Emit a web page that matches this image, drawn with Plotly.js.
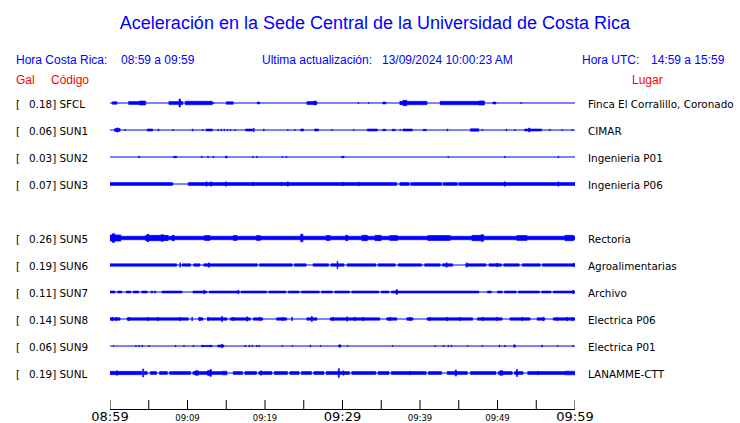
<!DOCTYPE html>
<html><head><meta charset="utf-8">
<script src="https://cdn.plot.ly/plotly-3.0.1.min.js"></script>
<style>html,body{margin:0;padding:0;background:#fff}#chart{width:740px;height:423px}</style>
</head><body><div id="chart"></div>
<script>
// ---------------- DATA ----------------
const estaciones = ["SFCL","SUN1","SUN2","SUN3","SUN5","SUN6","SUN7","SUN8","SUN9","SUNL"];
const ranuras    = [0,1,2,3,5,6,7,8,9,10];   // slot of each station (SUN4 has no record)
const picoGal    = [0.18,0.06,0.03,0.07,0.26,0.19,0.11,0.14,0.06,0.19];
const lugares    = ["Finca El Corralillo, Coronado","CIMAR","Ingenieria P01","Ingenieria P06","Rectoria","Agroalimentarias","Archivo","Electrica P06","Electrica P01","LANAMME-CTT"];
const minutosTick  = [0,10,20,30,40,50,60];
const textoTick    = ["08:59","09:09","09:19","09:29","09:39","09:49","09:59"];
const tickMayor    = [true,false,false,true,false,false,true];
const minutosMarca = [0,5,10,15,20,25,30,35,40,45,50,55,60];

// envelope of each record: [start minute, end minute, half amplitude (relative units)]
const SFCL = [[0.3,0.9,1.8],[2.4,4.2,2.0],[3.8,4.6,2.7],[7.6,9.4,2.2],[8.9,9.1,5.0],[9.7,13.2,2.4],[13.3,13.4,1.0],
  [15.0,15.9,1.8],[19.0,19.3,1.5],[25.4,26.7,2.0],[26.3,26.6,2.6],[32.0,32.1,1.0],[33.3,33.4,1.0],[35.2,35.6,1.5],
  [37.4,40.9,2.3],[37.8,38.3,3.5],[42.6,48.3,2.3],[47.6,48.3,2.7],[49.4,49.8,1.5],[53.0,53.1,1.0]];
const SUN1 = [[0.6,1.3,2.0],[0.9,1.0,3.0],[1.9,2.0,1.0],[4.8,5.5,1.5],[6.2,6.3,1.5],[8.1,8.2,1.0],[10.6,10.7,1.5],
  [11.9,12.0,1.0],[12.4,13.2,1.5],[13.9,14.0,1.2],[14.3,14.4,1.2],[14.7,14.8,1.2],[15.1,15.2,1.2],[15.5,15.6,1.2],
  [16.1,16.2,1.0],[17.5,18.4,1.5],[18.5,18.6,2.5],[19.8,19.9,1.5],[22.9,23.0,1.0],[23.8,23.9,1.0],[24.6,25.0,1.5],
  [26.4,26.9,1.5],[28.6,28.7,1.0],[31.4,31.5,1.0],[33.2,34.5,1.5],[35.2,35.6,1.2],[36.4,36.8,1.2],[37.4,37.5,1.0],
  [37.8,39.0,1.5],[40.4,40.8,1.2],[43.5,43.6,1.5],[46.5,47.6,1.8],[48.0,48.1,1.2],[51.1,51.2,1.5],[52.2,52.3,1.0],
  [53.5,55.7,1.5],[54.0,54.2,2.5],[56.7,56.8,1.2],[58.3,58.4,1.0],[59.6,59.7,1.0]];
const SUN2 = [[3.7,3.8,1.5],[8.2,8.6,1.2],[11.8,11.9,1.2],[12.6,12.7,1.2],[13.3,13.4,1.2],[14.9,15.1,1.5],[18.4,18.5,1.2],
  [18.9,19.0,1.2],[22.2,22.3,1.0],[22.7,22.8,1.0],[29.9,30.2,1.2],[43.6,43.7,1.0],[50.9,51.0,1.2],[57.8,57.9,1.2]];
const SUN3 = [[0,8.1,2.0],[10.1,37.0,2.0],[37.4,38.6,2.0],[38.8,42.8,2.0],[43.0,44.8,2.0],[45.0,60,2.0],
  [12.4,12.5,3.0],[13.0,13.1,3.0],[14.9,15.0,3.0],[18.4,18.5,2.5],[22.1,22.2,2.5],[22.9,23.0,3.0],[30.0,30.1,2.5],
  [32.1,32.2,2.5],[50.9,51.0,3.0],[57.8,57.9,3.0]];
const SUN5 = [[0,60,2.4],[0,1.4,4.0],[0.3,0.6,5.5],[4.6,7.5,3.5],[4.8,5.0,4.8],[6.6,6.9,4.2],[8.0,8.3,3.5],
  [12.2,12.9,3.2],[15.9,16.4,3.2],[18.9,19.4,3.2],[24.6,24.9,4.8],[27.9,28.4,3.2],[30.4,30.7,3.5],[32.5,33.2,3.5],
  [34.2,35.0,3.5],[36.1,37.1,3.2],[41.0,43.9,3.2],[46.7,48.2,3.5],[47.9,48.2,4.3],[52.5,53.8,3.2],[58.7,59.8,3.5]];
const SUN6 = [[0,8.6,1.8],[9.3,10.4,1.8],[10.8,11.6,1.8],[12.1,19.0,1.8],[19.3,23.5,1.8],[23.8,25.3,1.8],[26.2,28.2,1.8],
  [28.5,30.2,1.8],[30.6,34.3,1.8],[34.6,36.8,1.8],[37.2,40.2,1.8],[40.6,42.6,1.8],[42.9,44.2,1.8],[45.9,48.5,1.8],
  [48.9,50.5,1.8],[50.8,52.8,1.8],[53.2,55.5,1.8],[55.8,60,1.8],
  [9.0,9.1,3.0],[12.7,12.8,3.0],[29.3,29.4,4.8],[43.4,43.5,3.0],[46.0,46.1,3.0],[49.9,50.0,2.5],[59.8,59.9,2.5]];
const SUN7 = [[0,0.65,1.5],[1.0,1.5,1.5],[2.1,2.7,1.5],[3.0,3.7,1.5],[4.1,4.8,1.5],[5.3,5.5,1.5],[5.7,5.9,1.5],[6.7,9.3,1.5],
  [10.7,12.5,1.5],[12.8,16.7,1.5],[16.9,20.2,1.5],[20.5,22.7,1.5],[23.0,24.4,1.5],[24.7,27.0,1.5],[27.3,28.7,1.5],
  [29.0,30.9,1.5],[31.2,34.7,1.5],[35.0,36.0,1.5],[36.3,47.6,1.5],[48.7,49.2,1.5],[50.0,50.6,1.5],[50.9,52.4,1.5],
  [52.7,55.4,1.5],[55.7,56.9,1.5],[57.2,60,1.5],
  [12.1,12.2,2.5],[16.5,16.6,2.5],[36.9,37.1,3.0],[59.7,59.8,2.5]];
const SUN8 = [[0,1.3,1.8],[2.2,10.1,1.8],[11.4,12.0,1.8],[12.6,15.1,1.8],[15.5,18.1,1.8],[18.5,19.7,1.8],[21.5,22.8,1.8],
  [25.4,26.7,1.8],[28.4,34.8,1.8],[35.7,37.0,1.8],[38.3,39.1,1.8],[40.9,46.8,1.8],[47.4,50.6,1.8],[51.6,54.2,1.8],
  [55.1,56.1,1.8],[57.2,60,1.8],
  [0.25,0.35,2.5],[0.75,0.85,2.5],[2.4,2.5,2.5],[4.85,4.95,2.5],[6.15,6.25,2.5],[8.95,9.05,2.5],[10.55,10.65,2.5],
  [11.55,11.65,2.5],[12.6,12.7,2.5],[14.4,14.5,3.5],[15.85,15.95,2.5],[17.65,17.75,3.0],[19.3,19.4,2.5],[22.25,22.35,2.5],
  [23.45,23.55,2.5],[26.0,26.1,3.5],[28.75,28.85,2.5],[30.55,30.65,3.0],[31.55,31.65,2.5],[32.6,32.7,2.5],[36.1,36.2,2.5],
  [38.65,38.75,2.5],[41.25,41.35,2.5],[43.45,43.55,2.5],[45.15,45.25,2.5],[48.05,48.15,2.5],[49.9,50.0,2.5],
  [53.15,53.25,2.5],[55.85,55.95,2.5],[57.65,57.75,2.5],[58.95,59.05,2.5],[59.6,59.7,2.5]];
const SUN9 = [[0.4,0.5,1.0],[3.3,3.4,1.2],[3.7,3.8,1.2],[4.1,4.2,1.2],[5.0,5.1,1.0],[8.4,8.5,1.2],[9.5,9.6,1.0],[10.7,10.8,1.2],
  [11.8,13.2,1.0],[11.9,12.0,1.5],[12.9,13.0,1.5],[13.9,14.7,1.5],[14.4,14.5,2.5],[17.4,17.5,1.2],[17.9,18.0,1.2],
  [18.3,18.4,1.2],[18.9,19.0,1.2],[19.2,19.3,1.2],[22.2,22.3,1.0],[23.5,23.6,1.0],[25.8,25.9,1.5],[27.1,27.2,1.0],
  [29.5,29.8,1.5],[29.6,29.7,1.8],[30.6,30.7,1.0],[36.4,36.5,1.0],[41.9,42.0,1.0],[43.0,43.1,1.2],[43.6,43.7,1.2],
  [44.0,44.1,1.2],[46.1,46.2,1.0],[48.0,48.1,1.0],[50.2,50.3,1.5],[50.9,51.0,1.2],[52.1,52.3,1.8],[55.7,55.8,1.5],
  [57.7,57.8,1.0],[59.7,59.8,1.0]];
const SUNL = [[0,4.1,2.3],[0.85,0.95,3.0],[4.2,4.35,5.0],[4.4,4.8,2.0],[5.2,6.0,2.0],[6.4,7.4,2.0],[7.7,10.4,2.0],
  [10.7,12.5,2.0],[12.5,14.5,2.0],[14.5,15.1,2.5],[15.9,17.1,2.0],[17.4,18.9,2.0],[19.2,20.9,2.0],[21.2,22.9,2.0],
  [23.2,24.4,2.0],[24.7,26.0,2.0],[26.3,27.6,2.0],[27.9,30.9,2.0],[31.2,34.3,2.0],[34.6,36.0,2.0],[36.3,40.8,2.0],
  [41.1,42.8,2.0],[43.5,46.1,2.0],[46.5,49.8,2.0],[50.1,51.9,2.0],[52.2,53.3,2.0],[53.9,58.7,2.0],[58.7,60,2.5],
  [11.0,11.4,3.0],[12.6,13.1,3.2],[12.95,13.05,4.8],[19.45,19.55,3.0],[29.45,29.6,5.5],[30.05,30.15,3.0],
  [38.65,38.75,2.5],[44.55,44.7,4.0],[50.3,50.7,3.0],[52.45,52.6,4.5],[55.15,55.25,2.5]];
const envolventes = [SFCL,SUN1,SUN2,SUN3,SUN5,SUN6,SUN7,SUN8,SUN9,SUNL];

// ---------------- LAYOUT CONSTANTS ----------------
const W = 740, H = 423, L = 110, R = 575, T = 90, B = 409, FILA_PX = 27, Y0_PX = 103;
const AZUL = "rgb(0,0,255)", ROJO = "rgb(255,0,0)";
const AMP = 1 / FILA_PX;     // relative amplitude unit -> slot units
const TRAZO = 0.6;           // outline width of the envelope
const LARGO_MARCA = 9;       // tick length in px

const traces = [];
estaciones.forEach((e, i) => {
  const r = ranuras[i];
  traces.push({type:"scatter", mode:"lines", x:[0,60], y:[r,r], line:{color:AZUL, width:1},
               hoverinfo:"skip", showlegend:false});
  const xs = [], ys = [];
  envolventes[i].forEach(([t0, t1, a]) => {
    const h = Math.max(a * 0.85 - TRAZO / 2, 0.3) * AMP;
    xs.push(t0, t1, t1, t0, t0, null);
    ys.push(r - h, r - h, r + h, r + h, r - h, null);
  });
  traces.push({type:"scatter", mode:"lines", x:xs, y:ys, fill:"toself", fillcolor:AZUL,
               line:{color:AZUL, width:TRAZO}, connectgaps:false, hoverinfo:"skip", showlegend:false});
});

const px2x = p => (p - L) / (R - L);
const py2y = p => (B - p) / (B - T);
function ann(text, xp, yp, color, size, family, anchor) {
  return {text, x:px2x(xp), y:py2y(yp), xref:"paper", yref:"paper", xanchor:anchor || "left", yanchor:"middle",
          showarrow:false, borderpad:0, font:{family, size, color}};
}
const SANS = "Liberation Sans", DV = "DejaVu Sans";
const annotations = [
  ann("Hora Costa Rica:", 15, 60.5, AZUL, 12, SANS),
  ann("08:59 a 09:59", 120, 60.5, AZUL, 12, SANS),
  ann("Ultima actualización:", 261, 60.5, AZUL, 12, SANS),
  ann("13/09/2024 10:00:23 AM", 380.7, 60.5, AZUL, 12, SANS),
  ann("Hora UTC:", 580.7, 60.5, AZUL, 12, SANS),
  ann("14:59 a 15:59", 650, 60.5, AZUL, 12, SANS),
  ann("Gal", 15, 80, ROJO, 12, SANS),
  ann("Código", 50, 80, ROJO, 12, SANS),
  ann("Lugar", 630.7, 80, ROJO, 12, SANS)
];
estaciones.forEach((e, i) => {
  const yp = Y0_PX + ranuras[i] * FILA_PX + 0.5;
  annotations.push(ann("[", 15, yp, "black", 10.4, DV));
  annotations.push(ann(picoGal[i].toFixed(2) + "] " + e, 27.5, yp, "black", 10.4, DV));
  annotations.push(ann(lugares[i], 587.3, yp, "black", 10.4, DV));
});

const ticktext = textoTick.map((t, k) => tickMayor[k] ? '<span style="font-size:13px">' + t + '</span>' : t);
const shapes = minutosMarca.map(m => ({type:"line", xref:"x", yref:"paper", x0:m, x1:m, y0:0,
  y1:LARGO_MARCA / (B - T), line:{color:"black", width:1}, layer:"above"}));

const layout = {
  width: W, height: H, margin:{l:L, r:W - R, t:T, b:H - B, pad:0},
  paper_bgcolor:"white", plot_bgcolor:"white", showlegend:false,
  title:{text:"Aceleración en la Sede Central de la Universidad de Costa Rica",
         font:{family:SANS, size:18, color:AZUL}, x:375/W, xanchor:"center", y:1 - 23/H, yanchor:"middle"},
  xaxis:{range:[0,60], tickmode:"array", tickvals:minutosTick, ticktext:ticktext, ticks:"",
         ticklabelstandoff:1, showline:true, linecolor:"black", linewidth:1, showgrid:false,
         zeroline:false, tickfont:{family:DV, size:8.5, color:"black"}, fixedrange:true},
  yaxis:{range:[(B - Y0_PX) / FILA_PX, (T - Y0_PX) / FILA_PX], visible:false, fixedrange:true},
  shapes, annotations
};
Plotly.newPlot("chart", traces, layout, {displayModeBar:false, staticPlot:true});
</script></body></html>
